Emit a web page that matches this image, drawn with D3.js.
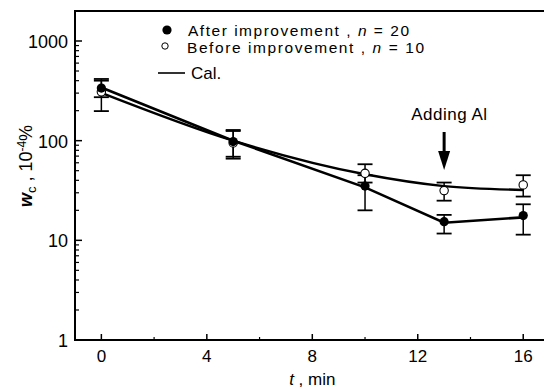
<!DOCTYPE html>
<html><head><meta charset="utf-8">
<script src="https://cdn.jsdelivr.net/npm/d3@7"></script>
<style>
body{margin:0;background:#fff;}
svg{display:block;font-family:"Liberation Sans",Arial,sans-serif;}
</style></head>
<body>
<svg id="c" width="544" height="390"></svg>
<script>
// ---- data ----
const times = [0, 5, 10, 13, 16];
const afterVals = [337, 98, 35, 15.4, 17.7];
const afterLow  = [273, 66, 20, 11.7, 11.4];
const afterHigh = [416, 128, 45, 18, 23];
const beforeVals = [309, 95, 47, 31.6, 36];
const beforeLow  = [198, 69, 38, 25, 27.5];
const beforeHigh = [400, 125, 58, 38, 45];
const calAfter  = [342, 100, 34, 15, 17];
const calBefore = [302, 100, 46, 35, 32];
const xTicks = [0, 4, 8, 12, 16];
const xMinor = [2, 6, 10, 14];
const yTicks = [1, 10, 100, 1000];
const annotTime = 13;

const svg = d3.select("#c");
const x = d3.scaleLinear().domain([-1, 16.75]).range([75, 543]);
const y = d3.scaleLog().domain([1, 2000]).range([340, 11]);
const fs = 17;

// frame: top line + left and bottom axes (open right)
svg.append("line").attr("x1",75).attr("x2",544).attr("y1",11).attr("y2",11)
  .attr("stroke","#000").attr("stroke-width",2);
svg.append("line").attr("x1",75).attr("x2",75).attr("y1",10).attr("y2",341)
  .attr("stroke","#000").attr("stroke-width",2);
svg.append("line").attr("x1",74).attr("x2",544).attr("y1",340).attr("y2",340)
  .attr("stroke","#000").attr("stroke-width",2);

// x ticks (inside)
xTicks.forEach(t=>{
  svg.append("line").attr("x1",x(t)).attr("x2",x(t)).attr("y1",340).attr("y2",334)
    .attr("stroke","#000").attr("stroke-width",1.5);
  svg.append("text").attr("x",x(t)).attr("y",362).attr("text-anchor","middle")
    .attr("font-size",fs).text(t);
});
xMinor.forEach(t=>{
  svg.append("line").attr("x1",x(t)).attr("x2",x(t)).attr("y1",340).attr("y2",337)
    .attr("stroke","#000").attr("stroke-width",1.2);
});
// y ticks
yTicks.forEach(v=>{
  svg.append("line").attr("x1",75).attr("x2",82).attr("y1",y(v)).attr("y2",y(v))
    .attr("stroke","#000").attr("stroke-width",1.5);
  svg.append("text").attr("x",68).attr("y",y(v)+7).attr("text-anchor","end")
    .attr("font-size",fs+1).text(v);
});
[1,10,100,1000].forEach(d=>{
  for(let k=2;k<=9;k++){
    const v=d*k; if(v>2000) continue;
    svg.append("line").attr("x1",75).attr("x2",79).attr("y1",y(v)).attr("y2",y(v))
      .attr("stroke","#000").attr("stroke-width",1.2);
  }
});

// axis titles
const xl = svg.append("text").attr("x",x(8)).attr("y",385).attr("text-anchor","middle").attr("font-size",fs);
xl.append("tspan").attr("font-style","italic").text("t");
xl.append("tspan").text(" , min");
const yl = svg.append("text").attr("transform","translate(32,166) rotate(-90)")
  .attr("text-anchor","middle").attr("font-size",fs+1);
yl.append("tspan").attr("font-style","italic").attr("font-weight","bold").text("w");
yl.append("tspan").attr("font-size",13).attr("dy",4).text("c");
yl.append("tspan").attr("dy",-4).text(" , 10");
yl.append("tspan").attr("font-size",12).attr("dy",-6).text("-4");
yl.append("tspan").attr("dy",6).text("%");

// cal lines
const lineLin = d3.line().x((d,i)=>x(times[i])).y(d=>y(d));
const lineCurve = d3.line().x((d,i)=>x(times[i])).y(d=>y(d)).curve(d3.curveMonotoneX);
svg.append("path").attr("d",lineCurve(calBefore)).attr("fill","none")
  .attr("stroke","#000").attr("stroke-width",2.4);
svg.append("path").attr("d",lineLin(calAfter)).attr("fill","none")
  .attr("stroke","#000").attr("stroke-width",2.6);

// error bars
function errBars(lo, hi){
  times.forEach((t,i)=>{
    const cx=x(t);
    svg.append("line").attr("x1",cx).attr("x2",cx).attr("y1",y(lo[i])).attr("y2",y(hi[i]))
      .attr("stroke","#000").attr("stroke-width",1.5);
    [lo[i],hi[i]].forEach(v=>{
      svg.append("line").attr("x1",cx-7.5).attr("x2",cx+7.5).attr("y1",y(v)).attr("y2",y(v))
        .attr("stroke","#000").attr("stroke-width",1.8);
    });
  });
}
errBars(afterLow, afterHigh);
errBars(beforeLow, beforeHigh);

// markers
times.forEach((t,i)=>{
  svg.append("circle").attr("cx",x(t)).attr("cy",y(beforeVals[i])).attr("r",4.2)
    .attr("fill","#fff").attr("stroke","#000").attr("stroke-width",1.1);
});
times.forEach((t,i)=>{
  svg.append("circle").attr("cx",x(t)).attr("cy",y(afterVals[i])).attr("r",4.6)
    .attr("fill","#000");
});

// legend
svg.append("circle").attr("cx",167).attr("cy",30).attr("r",4.6).attr("fill","#000");
svg.append("circle").attr("cx",165).attr("cy",46).attr("r",3.2).attr("fill","#fff")
  .attr("stroke","#000").attr("stroke-width",1);
svg.append("line").attr("x1",158).attr("x2",185).attr("y1",73).attr("y2",73)
  .attr("stroke","#000").attr("stroke-width",1.6);
function legText(yy, x0, len, a, n){
  const t = svg.append("text").attr("x",x0).attr("y",yy).attr("font-size",15.5)
    .attr("textLength",len).attr("lengthAdjust","spacing");
  t.append("tspan").text(a+" , ");
  t.append("tspan").attr("font-style","italic").text("n");
  t.append("tspan").text(" = "+n);
}
legText(36, 188, 221, "After improvement", 20);
legText(53, 187, 237, "Before improvement", 10);
svg.append("text").attr("x",191).attr("y",79).attr("font-size",fs).text("Cal.");

// annotation
const ax = x(annotTime);
svg.append("text").attr("x",ax+5).attr("y",120).attr("text-anchor","middle")
  .attr("font-size",17).attr("textLength",76).attr("lengthAdjust","spacing").text("Adding Al");
svg.append("line").attr("x1",ax).attr("x2",ax).attr("y1",132).attr("y2",155)
  .attr("stroke","#000").attr("stroke-width",3);
svg.append("path").attr("d",`M${ax-6},151 L${ax+6},151 L${ax},170 Z`).attr("fill","#000");
</script>
</body></html>
